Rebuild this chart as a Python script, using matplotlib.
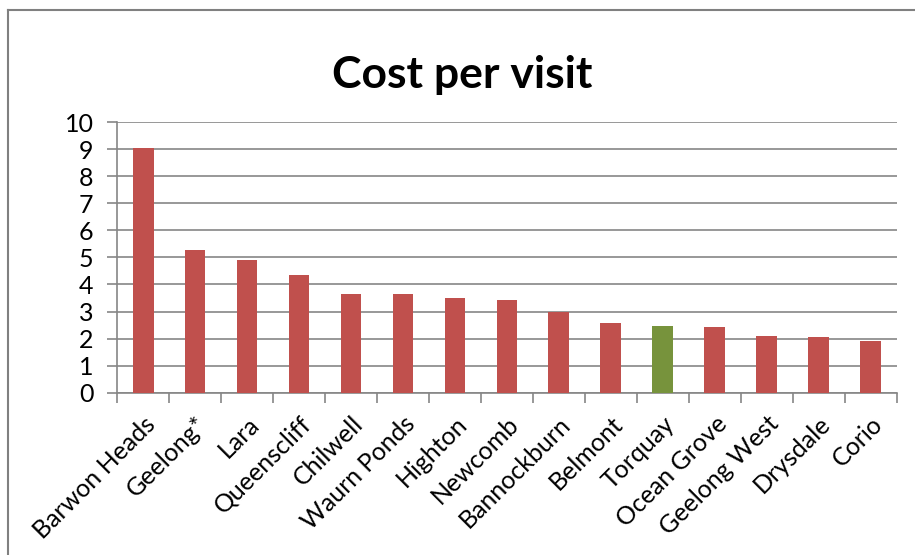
import matplotlib
matplotlib.use("Agg")
import matplotlib.pyplot as plt
from matplotlib.lines import Line2D

# Cost per visit by location
places = ['Barwon Heads', 'Geelong*', 'Lara', 'Queenscliff', 'Chilwell',
          'Waurn Ponds', 'Highton', 'Newcomb', 'Bannockburn', 'Belmont',
          'Torquay', 'Ocean Grove', 'Geelong West', 'Drysdale', 'Corio']
cost = [9.05, 5.28, 4.89, 4.34, 3.63, 3.63, 3.50, 3.44, 2.99, 2.57,
        2.46, 2.41, 2.08, 2.05, 1.90]
highlight = 'Torquay'

plt.rcParams['font.family'] = ['Lato', 'DejaVu Sans']

fig = plt.figure(figsize=(9.15, 5.55), dpi=100)
ax = fig.add_axes([0.128, 0.2924, 0.852, 0.4876])

colours = ['#77933C' if p == highlight else '#C0504D' for p in places]
x = range(len(places))
ax.bar(x, cost, width=0.4, color=colours, zorder=3)

ax.set_xlim(-0.5, len(places) - 0.5)
ax.set_ylim(0, 10)
ax.set_yticks(range(0, 11))
ax.yaxis.grid(True, color='#868686', linewidth=1.2, zorder=0)

# tick marks sit between categories, labels sit under each bar
ax.set_xticks([i - 0.5 for i in range(len(places) + 1)])
ax.set_xticklabels([])
ax.set_xticks(list(x), minor=True)
ax.set_xticklabels(places, minor=True, rotation=45, ha='right',
                   rotation_mode='anchor', fontsize=18)
ax.tick_params(axis='x', which='minor', length=0, pad=14)
ax.tick_params(axis='x', which='major', length=7, width=1.2, color='#868686')
ax.tick_params(axis='y', length=7, width=1.2, color='#868686', labelsize=18, pad=10)

for side in ['top', 'right']:
    ax.spines[side].set_visible(False)
for side in ['left', 'bottom']:
    ax.spines[side].set_color('#868686')
    ax.spines[side].set_linewidth(1.2)

fig.text(0.505, 0.842, 'Cost per visit', ha='center', va='baseline',
         fontsize=32, fontweight='bold')

# chart area border
fig.add_artist(Line2D([8 / 915, 8 / 915], [0, 1 - 10 / 555], color='#808080', linewidth=1.5))
fig.add_artist(Line2D([8 / 915, 1], [1 - 10 / 555, 1 - 10 / 555], color='#808080', linewidth=1.5))

fig.savefig('out.png', dpi=100)
